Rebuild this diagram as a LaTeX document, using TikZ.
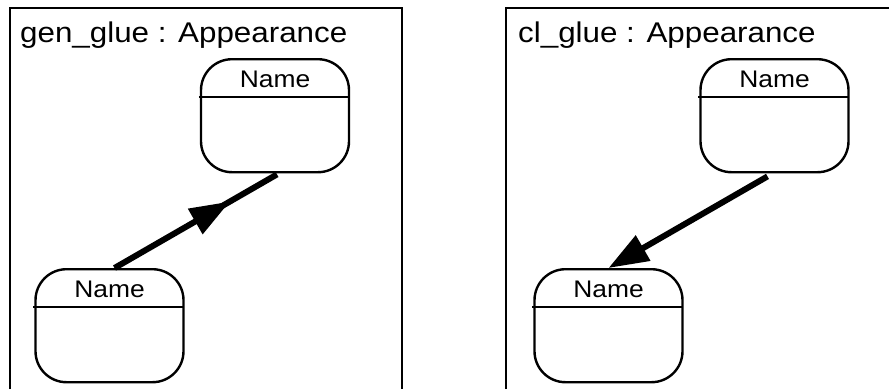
\documentclass[tikz,border=0pt]{standalone}
\usepackage{fontspec}
\setmainfont{Liberation Sans}[FakeStretch=1.1]
\usetikzlibrary{arrows.meta,decorations.markings,calc}
\begin{document}
\begin{tikzpicture}[x=1pt,y=-1pt,
  frameline/.style={line width=2.2pt},
  statebox/.style={draw,line width=2.4pt,rounded corners=31pt,minimum width=148pt,minimum height=113pt,inner sep=0pt,anchor=north},
  titletext/.style={inner sep=0pt,anchor=base west,font=\fontsize{28.5}{34}\selectfont},
  nametext/.style={inner sep=0pt,anchor=base,font=\fontsize{24}{28}\selectfont},
  divider/.style={line width=2.2pt},
  flow/.style={line width=6pt},
  bigtip/.tip={Triangle[length=40pt,width=28pt]}
]
\useasboundingbox (0,0) rectangle (889,389);
\fill[white] (0,0) rectangle (889,389);
% frames
\draw[frameline] (10,389) -- (10,8) -- (402,8) -- (402,389);
\draw[frameline] (506,389) -- (506,8) -- (889,8);
\node[titletext] (t1) at (20,42) {gen\_glue : Appearance};
\node[titletext] (t2) at (518,42) {cl\_glue : Appearance};
% state boxes
\node[statebox] (ul) at (275,58) {};
\node[statebox] (ll) at (109.5,268) {};
\node[statebox] (ur) at (774.5,58) {};
\node[statebox] (lr) at (608.5,268) {};
\foreach \b in {ul,ll,ur,lr}{
  \node[nametext] (\b name) at ($(\b.north)+(0,29)$) {Name};
  \draw[divider] ($(\b.north west)+(-1,39)$) -- ($(\b.north east)+(-2,39)$);
}
% connectors
\draw[flow, postaction={decorate},
  decoration={markings, mark=at position 0.71 with {\arrow{bigtip}}}]
  ($(ll.north)+(5,0)$) -- ($(ul.south)+(2,1)$);
\draw[flow,-bigtip] ($(ur.south)+(-7,3)$) -- (lr.north);
\end{tikzpicture}
\end{document}
